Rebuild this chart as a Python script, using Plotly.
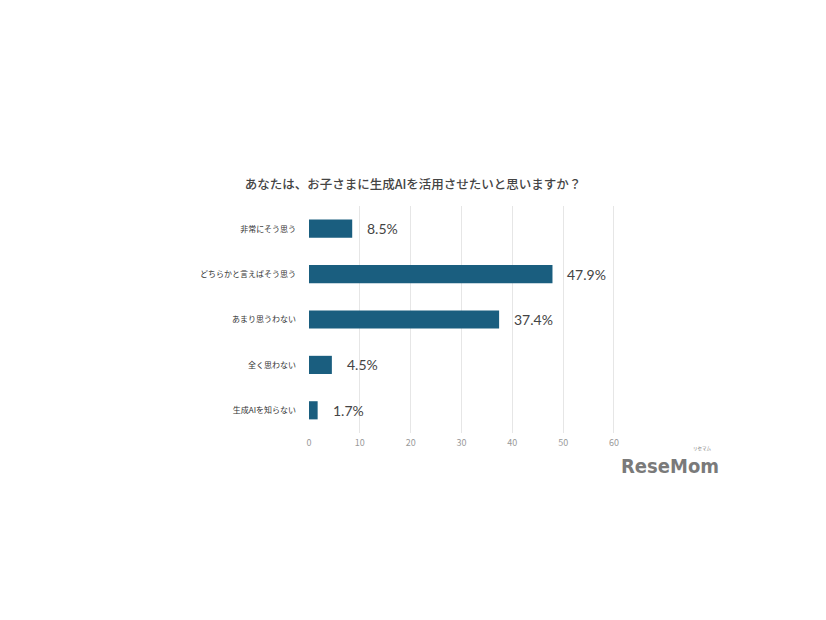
import plotly.graph_objects as go

categories = ["非常にそう思う", "どちらかと言えばそう思う", "あまり思うわない", "全く思わない", "生成AIを知らない"]
values = [8.5, 47.9, 37.4, 4.5, 1.7]
tick_vals = [0, 10, 20, 30, 40, 50, 60]

title_text = "あなたは、お子さまに生成AIを活用させたいと思いますか？"
font_family = "Noto Sans CJK JP, Noto Sans, sans-serif"
num_family = "Lato, Noto Sans, sans-serif"

fig = go.Figure()
fig.add_trace(go.Bar(
    x=values, y=categories, orientation="h",
    marker=dict(color="#1a5e7f", line=dict(width=0)),
    width=0.4, hoverinfo="skip",
))

for c, v in zip(categories, values):
    fig.add_annotation(
        x=v, y=c, xref="x", yref="y", text=f"{v}%", showarrow=False,
        xanchor="left", xshift=13, font=dict(size=14, color="#444444", family=num_family),
    )

fig.add_annotation(
    text="<b>ReseMom</b>", xref="paper", yref="paper", x=1.345, y=-0.145,
    xanchor="right", yanchor="middle", showarrow=False,
    font=dict(size=20, color="#7a7a7a", family="DejaVu Sans Condensed, Roboto Condensed, sans-serif"),
)
fig.add_annotation(
    text="リセマム", xref="paper", yref="paper", x=1.322, y=-0.07,
    xanchor="right", yanchor="middle", showarrow=False,
    font=dict(size=4.5, color="#7a7a7a", family=font_family),
)

fig.update_layout(
    width=826, height=620,
    margin=dict(l=301, r=219, t=198, b=195),
    paper_bgcolor="white", plot_bgcolor="white",
    showlegend=False,
    title=dict(
        text=title_text, x=405 / 826, xref="container", xanchor="center",
        y=(620 - 177) / 620, yref="container", yanchor="middle",
        font=dict(size=12.5, color="#444444", family=font_family, weight=500),
    ),
    xaxis=dict(
        range=[0, 60.2], tickvals=tick_vals, showgrid=True, gridcolor="#e6e6e6", gridwidth=1,
        zeroline=False, showline=False, ticks="", ticklabelstandoff=3,
        tickfont=dict(size=9, color="#9a9a9a", family=font_family),
    ),
    yaxis=dict(
        autorange="reversed", showgrid=False, zeroline=False, showline=False,
        ticks="", ticklabelstandoff=12,
        tickfont=dict(size=8, color="#333333", family=font_family),
    ),
)

fig.write_html("out.html")
